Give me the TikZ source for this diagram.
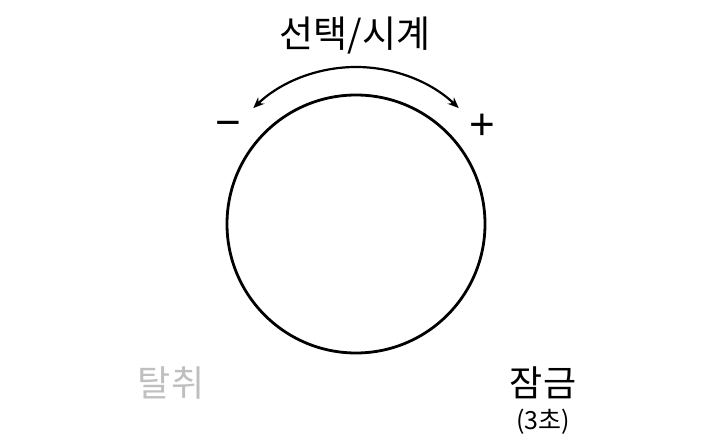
\documentclass[tikz,border=0pt]{standalone}
\usepackage{fontspec}
\setmainfont{Noto Sans CJK KR}
\newfontfamily\symfont{Liberation Sans}
\usetikzlibrary{arrows.meta}
\definecolor{lightgray}{HTML}{BFBFBF}
\tikzset{
  lbl/.style={inner sep=0pt, anchor=center},
  sym/.style={inner sep=0pt, anchor=base, font=\symfont\fontsize{44}{48}\selectfont},
  dial/.style={draw=black, line width=2.8pt},
  turn/.style={draw=black, line width=2.2pt, -{Stealth[length=11pt,width=9pt]}}
}
\begin{document}
\begin{tikzpicture}[x=1pt,y=1pt]
\useasboundingbox (0,0) rectangle (708,447);
\node[dial, circle, minimum size=258pt, inner sep=0pt] (dial) at (356,223) {};
\coordinate (ac) at (356,231);
\draw[turn] ([shift={(90:149)}]ac) coordinate (atop) arc[start angle=90, end angle=46.4, radius=149] coordinate (aright);
\draw[turn] (atop) arc[start angle=90, end angle=133.6, radius=149] coordinate (aleft);
\node[lbl, font=\fontsize{37}{41}\selectfont] (title) at (355,411) {선택/시계};
\node[sym] (minus) at (228.5,309) {−};
\node[sym] (plus) at (482.5,307) {+};
\node[lbl, font=\fontsize{36}{40}\selectfont, text=lightgray] (detach) at (171,64) {탈취};
\node[lbl, font=\fontsize{36}{40}\selectfont] (lock) at (543,64) {잠금};
\node[lbl, font=\fontsize{25}{29}\selectfont] (sec) at (543,25) {(3초)};
\end{tikzpicture}
\end{document}
